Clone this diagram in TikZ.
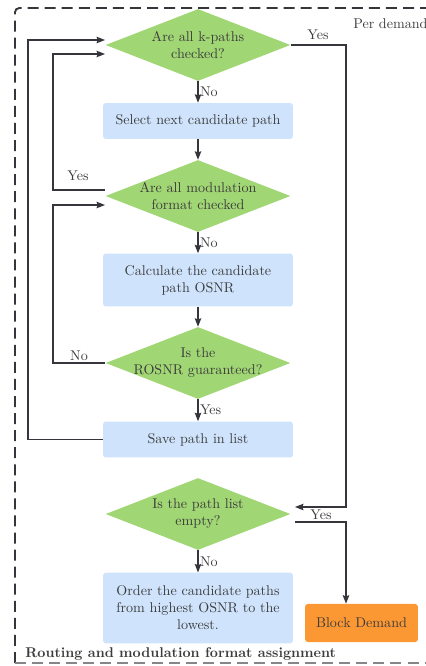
\documentclass[tikz,border=0pt]{standalone}
\usetikzlibrary{shapes.geometric,arrows.meta,calc}
\definecolor{decfill}{HTML}{A1D674}
\definecolor{stepfill}{HTML}{CFE4FC}
\definecolor{blockfill}{HTML}{FC9834}
\definecolor{wire}{HTML}{34363C}
\definecolor{txt}{HTML}{3C3C3C}
\begin{document}
\begin{tikzpicture}[x=0.709pt,y=-0.709pt,
  every node/.style={text=txt},
  decision/.style={diamond,fill=decfill,inner sep=0pt,
    minimum width=131pt,minimum height=51pt},
  dlabel/.style={label={[align=center,text=txt]center:#1}},
  stepbox/.style={rectangle,rounded corners=2pt,fill=stepfill,align=center,
    minimum width=134pt,text width=128pt},
  blockbox/.style={rectangle,rounded corners=2pt,fill=blockfill,align=center,
    minimum width=80pt,minimum height=27pt},
  wireline/.style={draw=wire,line width=0.9pt},
  arr/.style={wireline,-{Stealth[length=6pt,width=4.6pt,inset=0.8pt]}},
  lab/.style={inner sep=1pt}]
\useasboundingbox (0,0) rectangle (425,666);

% outer dashed frame
\draw[draw=wire,line width=1.3pt,dash pattern=on 7.8pt off 4.3pt,rounded corners=3pt]
  (15,663) -- (15,8) -- (450,8);
\draw[draw=wire!60,line width=1.3pt,dash pattern=on 7.8pt off 4.3pt]
  (15,663) -- (450,663);
\node[anchor=west,inner sep=0pt] (perdemand) at (353,24) {Per demand};
\node[anchor=west,inner sep=0pt,font=\bfseries] (title) at (25,654)
  {Routing and modulation format assignment};

% decisions and steps
\node[decision,dlabel={Are all k-paths\\checked?}] (d1) at (198,45) {};
\node[stepbox,minimum height=25.5pt] (b1) at (198,121) {Select next candidate path};
\node[decision,dlabel={Are all modulation\\format checked}] (d2) at (198,196) {};
\node[stepbox,minimum height=37.5pt] (b2) at (198,280) {Calculate the candidate\\path OSNR};
\node[decision,dlabel={Is the\\ROSNR guaranteed?}] (d3) at (198,363) {};
\node[stepbox,minimum height=25.5pt] (b3) at (198,439.5) {Save path in list};
\node[decision,dlabel={Is the path list\\empty?}] (d4) at (198,514) {};
\node[stepbox,minimum height=50pt] (b4) at (198,608) {Order the candidate paths\\from highest OSNR to the\\lowest.};
\node[blockbox] (blk) at (361.5,623) {Block Demand};

% helper points for the routed wires
\coordinate (rbus) at (346,0);
\coordinate (lbus) at (53,0);
\coordinate (obus) at (28,0);
\coordinate (d4in) at (295,507);
\coordinate (d4out) at (295,522);
\coordinate (d1inA) at (105,40);
\coordinate (d1inB) at (105,54);
\coordinate (d2in) at (105,205);
\coordinate (d2yes) at (105,190);

% main flow
\draw[arr] (d1.south) -- node[lab,right] {No} (b1.north);
\draw[arr] (b1.south) -- (d2.north);
\draw[arr] (d2.south) -- node[lab,right] {No} (b2.north);
\draw[arr] (b2.south) -- (d3.north);
\draw[arr] (d3.south) -- node[lab,right] {Yes} (b3.north);
\draw[arr] (d4.south) -- node[lab,right] {No} (b4.north);

% right side: all paths checked, list empty
\draw[arr] (d1.east) -- (d1.east -| rbus) |- (d4in);
\node[lab] (yes1) at (318,35) {Yes};
\draw[arr] (d4out) -- (d4out -| rbus) -- (rbus |- blk.north);
\node[lab] (yes4) at (321,515) {Yes};

% left side loops
\draw[arr] (d2yes) -- (d2yes -| lbus) |- (d1inB);
\node[lab] (yes2) at (78,176) {Yes};
\draw[arr] (d3.west) -- (d3.west -| lbus) |- (d2in);
\node[lab] (no3) at (79,356) {No};
\draw[arr] (b3.west) -- (b3.west -| obus) |- (d1inA);
\end{tikzpicture}
\end{document}
